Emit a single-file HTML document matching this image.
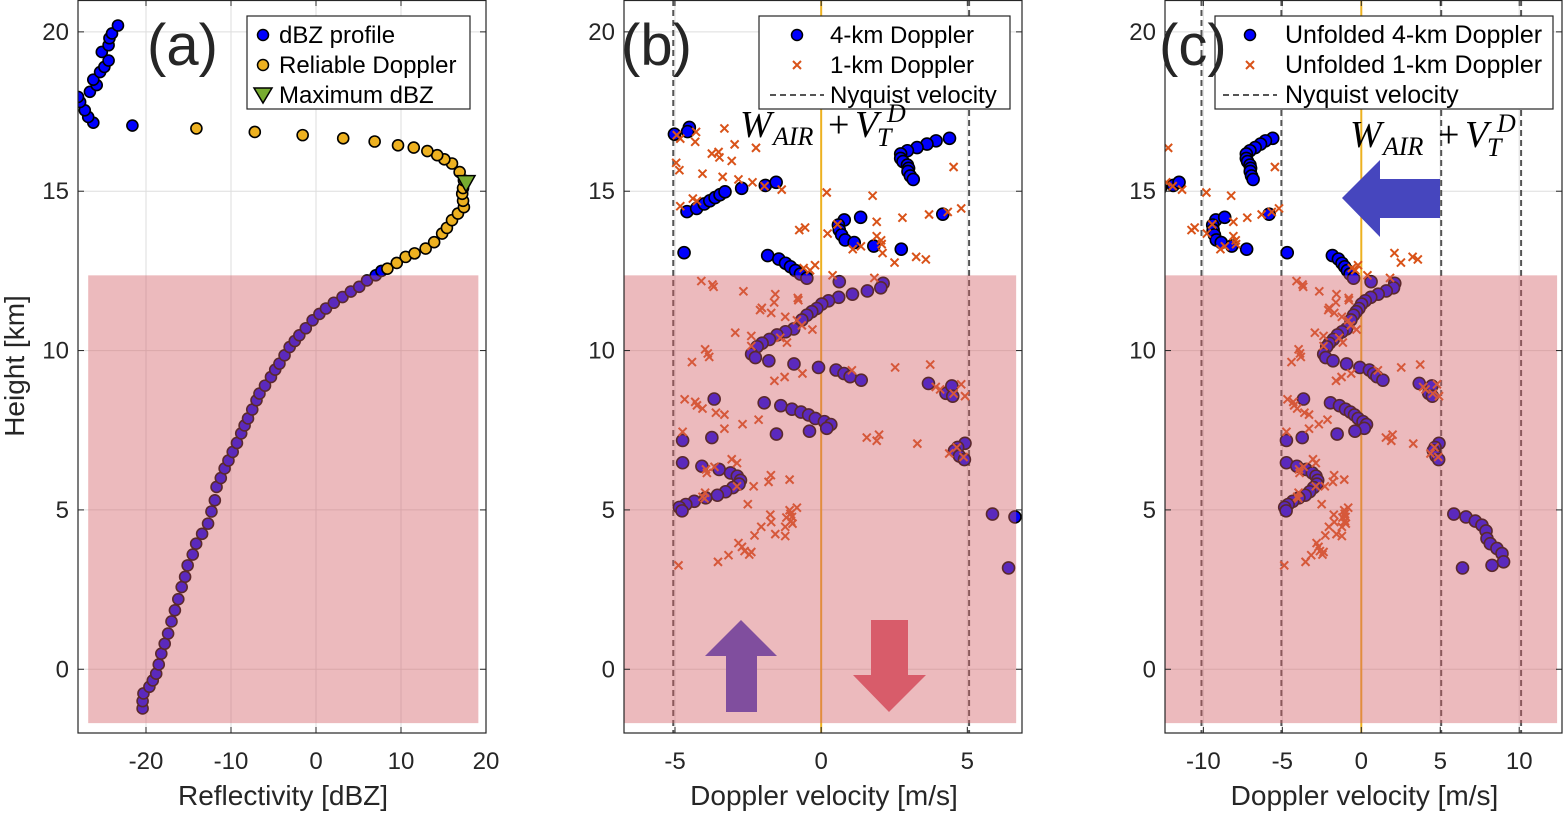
<!DOCTYPE html>
<html><head><meta charset="utf-8"><title>Reflectivity and Doppler velocity profiles</title>
<style>
html,body{margin:0;padding:0;background:#fff;}
svg{display:block;font-family:"Liberation Sans",Arial,sans-serif;}
</style></head>
<body>
<svg id="fig" width="1566" height="813" viewBox="0 0 1566 813" xmlns="http://www.w3.org/2000/svg">
<defs>
<clipPath id="clipA"><rect x="78" y="0" width="408" height="733"/></clipPath>
<clipPath id="clipB"><rect x="624" y="0" width="398" height="733"/></clipPath>
<clipPath id="clipC"><rect x="1165" y="0" width="397" height="733"/></clipPath>
</defs>
</svg>
<script>
// ---------------- DATA ----------------
const profH = [-1.23,-1.0,-0.76,-0.55,-0.35,-0.14,0.15,0.49,0.8,1.12,1.5,1.85,2.2,2.58,2.9,3.26,3.6,3.94,4.25,4.57,4.95,5.3,5.72,6.0,6.3,6.55,6.82,7.1,7.4,7.65,7.87,8.15,8.44,8.65,8.9,9.17,9.4,9.59,9.85,10.11,10.3,10.48,10.7,10.95,11.15,11.32,11.5,11.68,11.85,12.0,12.2,12.36,12.5,
 17.06,17.15,17.33,17.54,17.8,17.96,18.12,18.33,18.5,18.74,18.9,19.1,19.37,19.58,19.8,19.95,20.2];
const profZ = [-20.4,-20.4,-20.3,-19.6,-19.2,-18.8,-18.5,-18.2,-17.8,-17.4,-17.0,-16.6,-16.2,-15.8,-15.4,-15.1,-14.5,-14.1,-13.4,-12.7,-12.3,-11.9,-11.7,-11.2,-10.75,-10.3,-9.8,-9.3,-8.8,-8.4,-8.0,-7.5,-7.0,-6.65,-6.0,-5.3,-4.8,-4.3,-3.7,-3.1,-2.5,-1.96,-1.2,-0.4,0.4,1.17,2.1,3.12,4.1,5.08,6.0,7.03,7.7,
 -21.6,-26.2,-26.8,-27.2,-27.75,-28.0,-26.6,-25.8,-26.2,-25.4,-24.9,-24.4,-25.2,-24.4,-24.3,-24.0,-23.3];
const relH = [12.57,12.75,12.94,13.05,13.2,13.4,13.67,13.85,14.09,14.3,14.5,14.7,14.92,15.1,15.34,15.6,15.87,16.0,16.13,16.26,16.37,16.44,16.56,16.66,16.76,16.86,16.97];
const relZ = [8.4,9.5,10.55,11.6,12.9,13.9,14.84,15.4,16.0,16.7,17.4,17.3,17.2,17.3,17.4,16.9,16.0,15.1,14.26,13.1,11.5,9.65,6.9,3.2,-1.57,-7.2,-14.07];
const maxH = [15.24];
const maxZ = [17.65];

const dop4H = [16.79,17.0,16.87,
 16.66,16.58,16.48,16.37,16.27,16.17,16.03,15.93,15.82,15.72,15.62,15.48,15.37,
 14.36,14.46,14.6,14.7,14.8,14.89,14.98,15.09,15.18,15.28,
 14.28,13.07,
 14.1,13.94,13.78,13.63,13.47,13.39,14.18,13.28,13.18,
 12.98,12.87,12.74,12.63,12.51,12.4,12.27,
 12.16,12.11,11.97,11.87,11.77,11.67,11.56,11.46,11.32,11.22,11.11,10.96,10.68,10.59,10.49,10.35,10.23,10.12,9.89,9.78,9.68,9.58,9.47,9.39,9.28,9.18,9.07,
 8.97,8.66,8.89,8.57,
 8.48,8.36,8.27,8.16,8.07,7.98,7.87,7.77,7.68,7.56,7.47,7.38,7.27,7.18,
 7.09,6.96,6.86,6.69,6.58,
 6.48,6.37,6.27,6.16,6.06,5.93,5.81,5.7,5.57,5.46,5.38,5.27,5.17,5.08,4.97,
 4.87,4.78,3.18,
 4.65,4.52,4.34,4.1,3.94,3.79,3.63,3.37,3.26];
const dop4V = [-5.02,-4.51,-4.57,
 4.39,3.93,3.62,3.28,2.95,2.72,2.72,2.8,2.95,2.99,2.97,3.05,3.15,
 -4.59,-4.26,-4.0,-3.81,-3.63,-3.46,-3.29,-2.72,-1.91,-1.54,
 4.16,-4.69,
 0.79,0.59,0.62,0.7,0.82,1.13,1.35,1.8,2.74,
 -1.83,-1.45,-1.22,-1.05,-0.88,-0.71,-0.49,
 0.62,2.12,2.04,1.58,1.07,0.6,0.25,0.02,-0.15,-0.32,-0.49,-0.66,-0.94,-1.22,-1.51,-1.77,-2.02,-2.19,-2.38,-2.25,-1.79,-0.93,-0.09,0.51,0.78,0.99,1.37,
 3.67,4.27,4.47,4.5,
 -3.66,-1.95,-1.38,-1.0,-0.69,-0.43,-0.2,0.11,0.33,0.19,-0.4,-1.53,-3.74,-4.74,
 4.92,4.67,4.56,4.73,4.9,
 -4.74,-4.08,-3.49,-3.1,-2.87,-2.76,-2.81,-3.02,-3.27,-3.55,-3.95,-4.34,-4.63,-4.85,-4.76,
 5.86,6.63,6.41,
 7.22,7.64,7.9,7.96,8.17,8.59,8.91,9.01,8.28];
const dop4U = [-15.02,-14.51,-14.57,
 -5.61,-6.07,-6.38,-6.72,-7.05,-7.28,-7.28,-7.2,-7.05,-7.01,-7.03,-6.95,-6.85,
 -14.59,-14.26,-14.0,-13.81,-13.63,-13.46,-13.29,-12.72,-11.91,-11.54,
 -5.84,-4.69,
 -9.21,-9.41,-9.38,-9.3,-9.18,-8.87,-8.65,-8.2,-7.26,
 -1.83,-1.45,-1.22,-1.05,-0.88,-0.71,-0.49,
 0.62,2.12,2.04,1.58,1.07,0.6,0.25,0.02,-0.15,-0.32,-0.49,-0.66,-0.94,-1.22,-1.51,-1.77,-2.02,-2.19,-2.38,-2.25,-1.79,-0.93,-0.09,0.51,0.78,0.99,1.37,
 3.67,4.27,4.47,4.5,
 -3.66,-1.95,-1.38,-1.0,-0.69,-0.43,-0.2,0.11,0.33,0.19,-0.4,-1.53,-3.74,-4.74,
 4.92,4.67,4.56,4.73,4.9,
 -4.74,-4.08,-3.49,-3.1,-2.87,-2.76,-2.81,-3.02,-3.27,-3.55,-3.95,-4.34,-4.63,-4.85,-4.76,
 5.86,6.63,6.41,
 7.22,7.64,7.9,7.96,8.17,8.59,8.91,9.01,8.28];

const dop1H = [16.76,16.65,16.86,16.55,16.97,16.47,16.36,16.18,16.23,16.06,15.95,15.89,15.66,15.55,15.45,15.37,15.28,15.16,15.05,14.96,14.86,15.76,14.53,14.77,14.69,13.78,13.86,13.67,13.96,14.04,14.17,14.27,14.35,14.46,13.59,13.46,13.34,13.06,13.18,13.27,
 12.76,12.94,12.86,12.68,12.52,12.59,12.36,12.28,12.18,12.07,12.0,11.86,11.77,11.51,11.65,11.58,11.34,11.27,11.18,11.06,10.95,10.79,10.66,10.56,10.46,10.14,10.4,10.25,10.04,9.91,9.8,9.64,9.28,9.17,9.05,9.38,9.47,9.56,8.86,8.78,8.65,8.94,8.57,8.47,8.39,8.28,8.18,8.05,7.99,7.55,7.69,7.83,7.45,7.27,7.17,7.36,7.08,6.77,6.96,6.66,6.59,6.47,6.27,6.35,6.16,6.09,5.88,5.95,5.74,5.74,5.54,5.41,5.36,5.18,4.85,4.99,5.07,4.76,4.65,4.57,4.47,4.62,4.47,4.2,4.24,4.18,3.96,3.84,3.71,3.6,3.68,3.58,3.37,3.26,4.78,4.88];
const dop1V = [-4.94,-4.82,-4.28,-4.31,-3.31,-2.96,-2.23,-3.74,-3.51,-3.48,-3.06,-4.96,-4.85,-4.06,-3.37,-2.83,-2.35,-1.94,-1.35,0.19,1.76,4.53,-4.82,-4.39,-4.25,-0.75,-0.55,0.22,0.56,1.9,2.78,3.69,4.33,4.79,1.9,2.05,2.07,2.1,1.08,1.36,
 2.51,3.25,3.58,-0.21,-0.38,-0.6,0.39,1.82,-4.1,-3.72,-3.68,-2.66,-1.57,-1.61,-0.8,-0.78,-2.03,-2.09,-1.71,-1.23,-0.83,-0.66,-0.3,-2.94,-2.39,-2.39,-1.4,-1.17,-3.97,-3.88,-3.83,-4.42,-0.64,-1.25,-1.6,1.05,2.53,3.73,3.92,4.07,4.53,4.79,4.92,-4.67,-4.31,-4.25,-4.06,-3.6,-3.31,-3.31,-2.69,-2.14,-4.74,1.56,1.9,1.98,3.29,4.38,4.64,4.87,-3.06,-2.88,-3.94,-3.65,-3.91,-1.72,-1.8,-1.08,-2.31,-2.88,-3.97,-4.06,-3.99,-2.51,-1.74,-1.08,-0.83,-1.19,-1.03,-0.98,-1.23,-1.71,-2.05,-2.28,-1.57,-1.23,-2.83,-2.71,-2.62,-2.46,-2.39,-3.17,-3.53,-4.88,-1.0,-1.05];
const dop1U = [-14.94,-14.82,-14.28,-14.31,-13.31,-12.96,-12.23,-13.74,-13.51,-13.48,-13.06,-14.96,-14.85,-14.06,-13.37,-12.83,-12.35,-11.94,-11.35,-9.81,-8.24,-5.47,-14.82,-14.39,-14.25,-10.75,-10.55,-9.78,-9.44,-8.1,-7.22,-6.31,-5.67,-5.21,-8.1,-7.95,-7.93,2.1,-8.92,-8.64,
 2.51,3.25,3.58,-0.21,-0.38,-0.6,0.39,1.82,-4.1,-3.72,-3.68,-2.66,-1.57,-1.61,-0.8,-0.78,-2.03,-2.09,-1.71,-1.23,-0.83,-0.66,-0.3,-2.94,-2.39,-2.39,-1.4,-1.17,-3.97,-3.88,-3.83,-4.42,-0.64,-1.25,-1.6,1.05,2.53,3.73,3.92,4.07,4.53,4.79,4.92,-4.67,-4.31,-4.25,-4.06,-3.6,-3.31,-3.31,-2.69,-2.14,-4.74,1.56,1.9,1.98,3.29,4.38,4.64,4.87,-3.06,-2.88,-3.94,-3.65,-3.91,-1.72,-1.8,-1.08,-2.31,-2.88,-3.97,-4.06,-3.99,-2.51,-1.74,-1.08,-0.83,-1.19,-1.03,-0.98,-1.23,-1.71,-2.05,-2.28,-1.57,-1.23,-2.83,-2.71,-2.62,-2.46,-2.39,-3.17,-3.53,-4.88,-1.0,-1.05];

const nyquistB = [-5.06, 5.06];
const nyquistC = [-10.12, -5.06, 5.06, 10.12];
const yTicks = [0, 5, 10, 15, 20];
const xTicksA = [-20, -10, 0, 10, 20];
const xTicksB = [-5, 0, 5];
const xTicksC = [-10, -5, 0, 5, 10];
const shadeH = [-1.69, 12.36];
const shadeA = [-26.8, 19.1];
const shadeB = [-6.745, 6.67];
const shadeC = [-12.43, 12.4];

// ---------------- LAYOUT ----------------
const NS = "http://www.w3.org/2000/svg";
const svg = document.getElementById('fig');
const Y0 = 0, Y1 = 733, YMIN = -2, YMAX = 21;
function sy(h){ return Y1 - (h - YMIN) / (YMAX - YMIN) * (Y1 - Y0); }
function mkScale(x0, x1, mn, mx){ return v => x0 + (v - mn) / (mx - mn) * (x1 - x0); }
function make(tag, attrs, parent){
  const e = document.createElementNS(NS, tag);
  for (const k in attrs) e.setAttribute(k, attrs[k]);
  (parent || svg).appendChild(e);
  return e;
}
const AX = {
  a: {x0:78, x1:486, mn:-28, mx:20, clip:'clipA'},
  b: {x0:624, x1:1022, mn:-6.745, mx:6.87, clip:'clipB'},
  c: {x0:1165, x1:1562, mn:-12.43, mx:12.71, clip:'clipC'}
};
for (const k in AX) AX[k].sx = mkScale(AX[k].x0, AX[k].x1, AX[k].mn, AX[k].mx);

function grid(p, xt, key){
  const g = make('g', {}, svg);
  
  
  xt.forEach(v => { make('line', {x1:p.sx(v), x2:p.sx(v), y1:Y0, y2:Y1, stroke:'#dedede', 'stroke-width':1}, g); });
  yTicks.forEach(h => { make('line', {x1:p.x0, x2:p.x1, y1:sy(h), y2:sy(h), stroke:'#dedede', 'stroke-width':1}, g); });
}
function circles(p, hs, vs, fill, r, key, parent){
  const g = make('g', {'clip-path':'url(#' + p.clip + ')'}, parent || svg);
  
  
  for (let i = 0; i < hs.length; i++){
    const c = make('circle', {cx:p.sx(vs[i]), cy:sy(hs[i]), r:r, fill:fill, stroke:'#000', 'stroke-width':1.6}, g);
    
    
  }
}
function crosses(p, hs, vs, key){
  const g = make('g', {'clip-path':'url(#' + p.clip + ')', stroke:'rgb(217,83,25)', 'stroke-width':2}, svg);
  
  
  for (let i = 0; i < hs.length; i++){
    const x = p.sx(vs[i]), y = sy(hs[i]), s = 4;
    const m = make('path', {d:`M${x-s},${y-s}L${x+s},${y+s}M${x-s},${y+s}L${x+s},${y-s}`, fill:'none'}, g);
    
    
  }
}
function vlines(p, vals, key){
  const g = make('g', {stroke:'#555', 'stroke-width':2, 'stroke-dasharray':'6,4'}, svg);
  
  
  vals.forEach(v => make('line', {x1:p.sx(v), x2:p.sx(v), y1:Y0, y2:Y1}, g));
}
function zeroLine(p, key){
  const l = make('line', {x1:p.sx(0), x2:p.sx(0), y1:Y0, y2:Y1, stroke:'rgb(237,177,32)', 'stroke-width':2});
  
  
}
function shade(p, xr, key){
  const r = make('rect', {x:p.sx(xr[0]), y:sy(shadeH[1]), width:p.sx(xr[1]) - p.sx(xr[0]), height:sy(shadeH[0]) - sy(shadeH[1]), fill:'rgb(211,94,103)', 'fill-opacity':0.43});
  
  
}
function axes(p, xt, key, xlabel){
  const g = make('g', {}, svg);
  
  
  make('rect', {x:p.x0, y:Y0 + 0.5, width:p.x1 - p.x0, height:Y1 - Y0 - 0.5, fill:'none', stroke:'#262626', 'stroke-width':1.2}, g);
  xt.forEach(v => {
    const x = p.sx(v);
    make('line', {x1:x, x2:x, y1:Y1, y2:Y1 - 6, stroke:'#262626'}, g);
    make('line', {x1:x, x2:x, y1:Y0, y2:Y0 + 6, stroke:'#262626'}, g);
    const t = make('text', {x:x, y:769, 'text-anchor':'middle', 'font-size':24, fill:'#262626'}, g);
    t.textContent = String(v);
    
    
  });
  yTicks.forEach(h => {
    const y = sy(h);
    make('line', {x1:p.x0, x2:p.x0 + 6, y1:y, y2:y, stroke:'#262626'}, g);
    make('line', {x1:p.x1, x2:p.x1 - 6, y1:y, y2:y, stroke:'#262626'}, g);
    const t = make('text', {x:p.x0 - 9, y:y + 8, 'text-anchor':'end', 'font-size':24, fill:'#262626'}, g);
    t.textContent = String(h);
    
    
  });
  const xl = make('text', {x:(p.x0 + p.x1) / 2 + 1, y:805, 'text-anchor':'middle', 'font-size':28, fill:'#262626'}, g);
  xl.textContent = xlabel;
  
  
}

// ---------------- PANEL A ----------------
const A = AX.a;
grid(A, xTicksA, 'a');
circles(A, profH, profZ, '#0000ff', 5.5, 'dbz-profile');
circles(A, relH, relZ, 'rgb(237,177,32)', 5.5, 'reliable-doppler');
(function(){
  const x = A.sx(maxZ[0]), y = sy(maxH[0]);
  const t = make('path', {d:`M${x-9},${y-8}L${x+9},${y-8}L${x},${y+8}Z`, fill:'rgb(119,172,48)', stroke:'#000', 'stroke-width':1.5});
  
  
})();
shade(A, shadeA, 'shaded-region-a');
axes(A, xTicksA, 'a', 'Reflectivity [dBZ]');

// ---------------- PANEL B ----------------
const B = AX.b;
grid(B, xTicksB, 'b');
vlines(B, nyquistB, 'nyquist-lines-b');
zeroLine(B, 'zero-line-b');
circles(B, dop4H, dop4V, '#0000ff', 6, 'doppler-4km-b');
crosses(B, dop1H, dop1V, 'doppler-1km-b');
shade(B, shadeB, 'shaded-region-b');
axes(B, xTicksB, 'b', 'Doppler velocity [m/s]');

// ---------------- PANEL C ----------------
const C = AX.c;
grid(C, xTicksC, 'c');
vlines(C, nyquistC, 'nyquist-lines-c');
zeroLine(C, 'zero-line-c');
circles(C, dop4H, dop4U, '#0000ff', 6, 'unfolded-4km-c');
crosses(C, dop1H, dop1U, 'unfolded-1km-c');
shade(C, shadeC, 'shaded-region-c');
axes(C, xTicksC, 'c', 'Doppler velocity [m/s]');

(function(){
  const t = make('text', {x:0, y:0, transform:'translate(24,366) rotate(-90)', 'text-anchor':'middle', 'font-size':28, fill:'#262626'});
  t.textContent = 'Height [km]';
  
  
})();

// arrows
(function(){
  const up = make('path', {d:'M741,620L777,656L757,656L757,712L726,712L726,656L705,656Z', fill:'rgb(128,78,158)'});
  
  
  const dn = make('path', {d:'M871,620L908,620L908,675L926,675L889,712L853,675L871,675Z', fill:'rgb(216,92,106)'});
  
  
  const lf = make('path', {d:'M1342,198L1380,160L1380,179L1440,179L1440,218L1380,218L1380,237Z', fill:'rgb(70,70,190)'});
  
  
})();

function legend(x, y, w, items, key){
  const g = make('g', {});
  
  
  make('rect', {x:x, y:y, width:w, height:93, fill:'#fff', stroke:'#262626', 'stroke-width':1.2}, g);
  items.forEach((it, i) => {
    const cy = y + 19 + i * 30;
    if (it.type === 'circle') make('circle', {cx:it.mx, cy:cy, r:5.5, fill:it.color, stroke:'#000', 'stroke-width':1.5}, g);
    if (it.type === 'cross') make('path', {d:`M${it.mx-4},${cy-4}L${it.mx+4},${cy+4}M${it.mx-4},${cy+4}L${it.mx+4},${cy-4}`, stroke:'rgb(217,83,25)', 'stroke-width':2}, g);
    if (it.type === 'tri') make('path', {d:`M${it.mx-9},${cy-7}L${it.mx+9},${cy-7}L${it.mx},${cy+8}Z`, fill:'rgb(119,172,48)', stroke:'#000', 'stroke-width':1.5}, g);
    if (it.type === 'dash') make('line', {x1:it.mx - 27, x2:it.mx + 27, y1:cy, y2:cy, stroke:'#555', 'stroke-width':2, 'stroke-dasharray':'6,4'}, g);
    const t = make('text', {x:it.tx, y:cy + 8, 'font-size':it.fs, fill:'#000'}, g);
    t.textContent = it.label;
    
    
  });
}
legend(247, 16, 223, [
  {type:'circle', color:'#0000ff', mx:263, tx:279, fs:24, label:'dBZ profile'},
  {type:'circle', color:'rgb(237,177,32)', mx:263, tx:279, fs:24, label:'Reliable Doppler'},
  {type:'tri', mx:263, tx:279, fs:24, label:'Maximum dBZ'}
], 'legend-a');
legend(759, 16, 251, [
  {type:'circle', color:'#0000ff', mx:797, tx:830, fs:24, label:'4-km Doppler'},
  {type:'cross', mx:797, tx:830, fs:24, label:'1-km Doppler'},
  {type:'dash', mx:797, tx:830, fs:24, label:'Nyquist velocity'}
], 'legend-b');
legend(1215, 16, 338, [
  {type:'circle', color:'#0000ff', mx:1250, tx:1285, fs:25, label:'Unfolded 4-km Doppler'},
  {type:'cross', mx:1250, tx:1285, fs:25, label:'Unfolded 1-km Doppler'},
  {type:'dash', mx:1250, tx:1285, fs:25, label:'Nyquist velocity'}
], 'legend-c');

function formula(x, y, key){
  const g = make('g', {'font-family':'"Liberation Serif","DejaVu Serif",serif', 'font-style':'italic', fill:'#000'});
  
  
  let t = make('text', {x:x, y:y, 'font-size':38}, g); t.textContent = 'W';
  t = make('text', {x:x + 33, y:y + 8, 'font-size':26}, g); t.textContent = 'AIR';
  t = make('text', {x:x + 88, y:y, 'font-size':38, 'font-style':'normal'}, g); t.textContent = '+';
  t = make('text', {x:x + 115, y:y, 'font-size':38}, g); t.textContent = 'V';
  t = make('text', {x:x + 137, y:y + 9, 'font-size':26}, g); t.textContent = 'T';
  t = make('text', {x:x + 147, y:y - 15, 'font-size':26}, g); t.textContent = 'D';
}
formula(740, 137, 'formula-annotation-b');
formula(1350, 147, 'formula-annotation-c');

[['(a)',147,'panel-label-a'],['(b)',621,'panel-label-b'],['(c)',1159,'panel-label-c']].forEach(d => {
  const t = make('text', {x:d[1], y:65, 'font-size':58, fill:'#262626'});
  t.textContent = d[0];
  
  
});
</script>
</body></html>
